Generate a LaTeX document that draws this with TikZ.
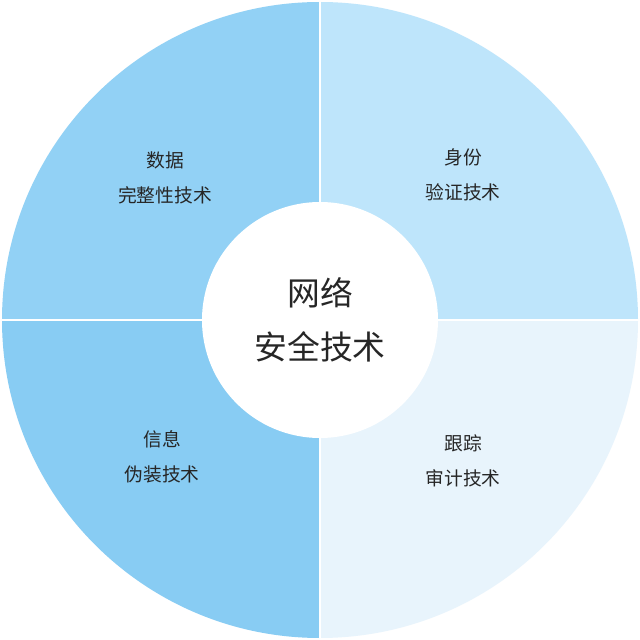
\documentclass[tikz,border=0pt]{standalone}
\usepackage{fontspec}
\newfontfamily\cjk{Noto Sans CJK SC}
\definecolor{tl}{HTML}{92D1F5}
\definecolor{tr}{HTML}{BEE5FB}
\definecolor{bl}{HTML}{88CCF3}
\definecolor{br}{HTML}{E8F4FC}
\begin{document}
\begin{tikzpicture}[x=0.03cm,y=0.03cm,
  lbl/.style={font=\cjk\fontsize{16}{30}\selectfont,text=black!85,align=center},
  big/.style={font=\cjk\fontsize{28}{46}\selectfont,text=black!85,align=center}]
\useasboundingbox[fill=white] (0,0) rectangle (640,640);
\coordinate (c) at (320,320);
\fill[tl] (c) -- (2,320) arc[start angle=180,end angle=90,radius=318] -- cycle;
\fill[tr] (c) -- (320,638) arc[start angle=90,end angle=0,radius=318] -- cycle;
\fill[br] (c) -- (638,320) arc[start angle=0,end angle=-90,radius=318] -- cycle;
\fill[bl] (c) -- (320,2) arc[start angle=270,end angle=180,radius=318] -- cycle;
\draw[white,line width=1pt] (0,320) -- (640,320) (320,0) -- (320,640);
\node[circle,fill=white,minimum size=236*0.03cm,inner sep=0] (inner) at (c) {};
\node[big] (t0) at (320,320) {网络\\安全技术};
\node[lbl] (t1) at (165,462) {数据\\完整性技术};
\node[lbl] (t2) at (463,465) {身份\\验证技术};
\node[lbl] (t3) at (162,183) {信息\\伪装技术};
\node[lbl] (t4) at (463,179) {跟踪\\审计技术};
\end{tikzpicture}
\end{document}
